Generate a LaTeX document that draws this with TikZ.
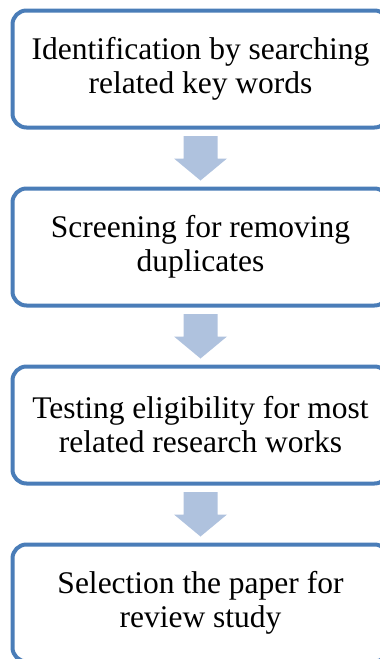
\documentclass[tikz,border=0pt]{standalone}
\usepackage{fontspec}
\setmainfont{Liberation Serif}
\usetikzlibrary{calc}
\definecolor{boxblue}{HTML}{4A7DB8}
\definecolor{arrowblue}{HTML}{AFC2DE}
\tikzstyle{stage} = [rectangle, rounded corners=14pt, minimum width=376pt, minimum height=117pt, align=center, draw=boxblue, line width=4pt, fill=white, outer sep=0pt, font=\fontsize{31.5}{34}\selectfont]
\tikzstyle{blockarrow} = [fill=arrowblue]
% block arrow from the bottom of one stage to the top of the next
\newcommand{\stagearrow}[2]{%
\fill[blockarrow] ($(#1.south)+(-17,-8.5)$) -- ($(#1.south)+(17,-8.5)$) -- ($(#2.north)+(17,30)$) -- ($(#2.north)+(26.5,30)$) -- ($(#2.north)+(0,8)$) -- ($(#2.north)+(-26.5,30)$) -- ($(#2.north)+(-17,30)$) -- cycle;}

\begin{document}
\begin{tikzpicture}[x=1pt, y=1pt, node distance=178pt]
\useasboundingbox (0,0) rectangle (380,-659);
\node (ident) [stage] at (200.5,-69) {Identification by searching\\related key words};
\node (screen) [stage, below of=ident] {Screening for removing\\duplicates};
\node (elig) [stage, below of=screen] {Testing eligibility for most\\related research works};
\node (select) [stage, below of=elig] {Selection the paper for\\review study};
\stagearrow{ident}{screen}
\stagearrow{screen}{elig}
\stagearrow{elig}{select}
\end{tikzpicture}
\end{document}
